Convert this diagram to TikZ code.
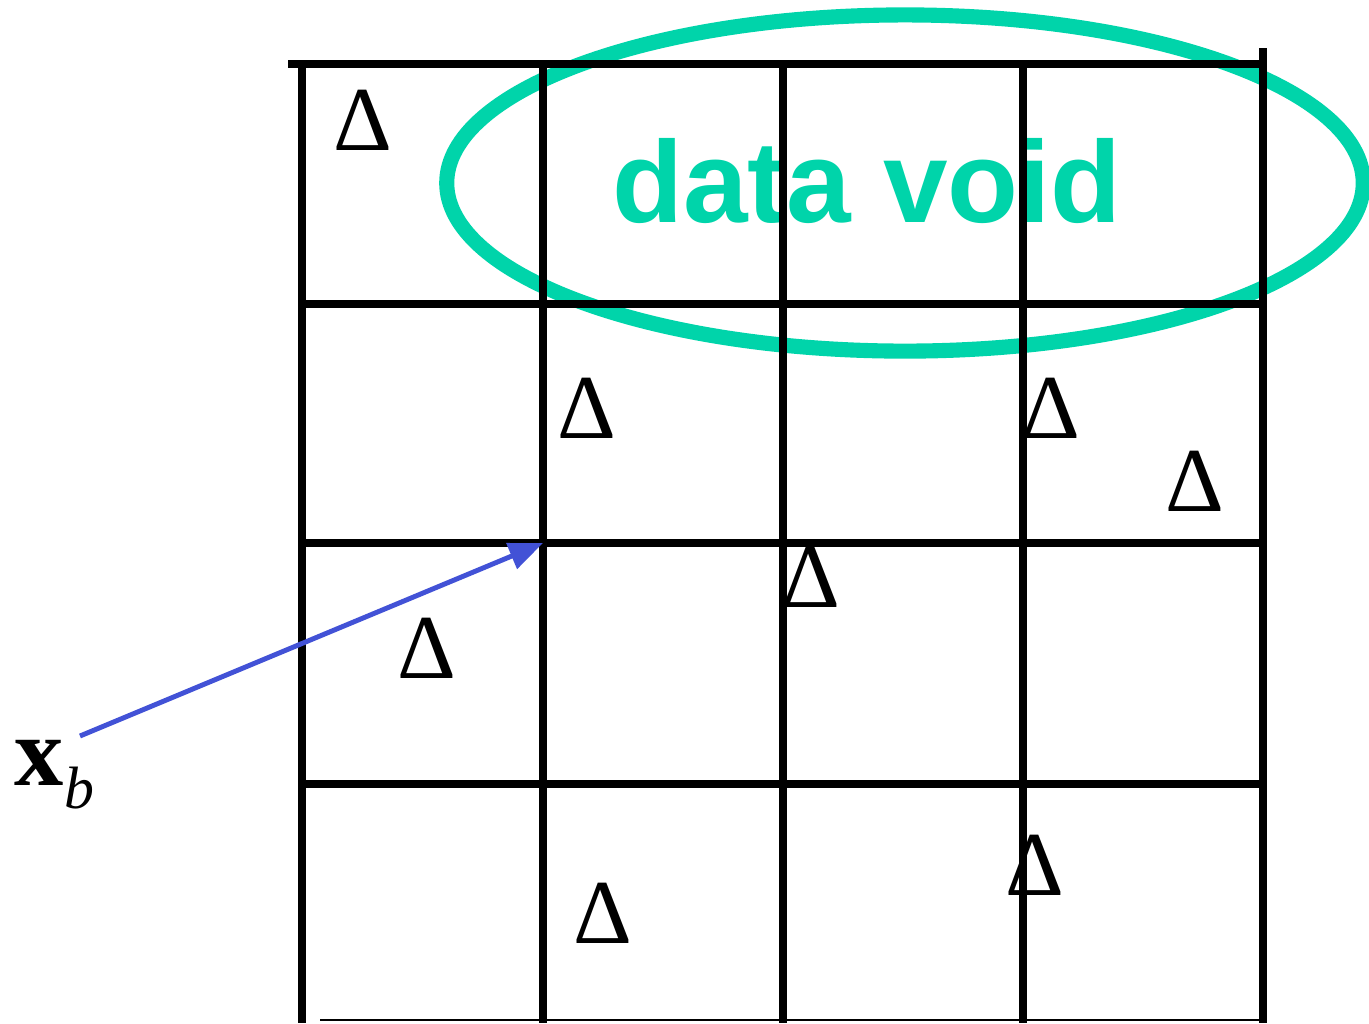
\documentclass[tikz,border=0pt]{standalone}
\usepackage{fontspec}
\setmainfont{Liberation Serif}
\newfontfamily\sansvacio{Liberation Sans}
\usetikzlibrary{arrows.meta}
\definecolor{verdeagua}{RGB}{0,212,170}
\definecolor{azulflecha}{RGB}{66,82,214}
\tikzset{
  rejilla/.style = {black, line width=2.3pt},
  borde/.style   = {black, line width=0.6pt},
  vacio/.style   = {verdeagua, line width=4.3pt},
  delta/.style   = {anchor=base, inner sep=0pt, font=\fontsize{26}{26}\selectfont},
  flecha/.style  = {-{Triangle[length=0.34cm, width=0.27cm]}, azulflecha, line width=1.4pt}
}

\begin{document}
\begin{tikzpicture}[x=0.01cm, y=-0.01cm]
  \useasboundingbox (0,0) rectangle (1369,1023);

  \draw[vacio] (905,183) ellipse[x radius=4.58cm, y radius=1.68cm];
  \node[anchor=base, inner sep=0pt, text=verdeagua, font=\sansvacio\bfseries\fontsize{33}{33}\selectfont] (hueco) at (867,222) {data void};

  \draw[rejilla] (288,64) -- (1263,64);
  \foreach \y in {304,543,784}{
    \draw[rejilla] (302,\y) -- (1263,\y);
  }
  \foreach \x in {302,543,783,1023}{
    \draw[rejilla] (\x,64) -- (\x,1023);
  }
  \draw[rejilla] (1263,48) -- (1263,1023);
  \draw[borde] (320,1020) -- (1260,1020);

  \foreach \px/\py [count=\i] in {363/150, 587/438, 1051/438, 1195/511, 811/607, 427/678, 1035/895, 603/943}{
    \node[delta] (d\i) at (\px,\py) {Δ};
  }

  \node[anchor=base west, inner sep=0pt, font=\fontsize{28}{28}\selectfont] (xb) at (14,785)
    {\textbf{x}\hspace{0.01cm}\raisebox{-0.23cm}{\fontsize{17}{17}\selectfont\itshape b}};
  \coordinate (cola) at (80,736);
  \coordinate (esquina) at (543,543);
  \draw[flecha] (cola) -- (esquina);
\end{tikzpicture}
\end{document}
